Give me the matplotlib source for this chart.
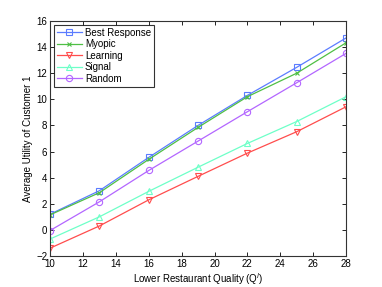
import matplotlib
matplotlib.use("Agg")
import matplotlib.pyplot as plt

# quality values on x axis
quality = [10, 13, 16, 19, 22, 25, 28]

best_response = [1.2, 3.0, 5.55, 8.0, 10.3, 12.45, 14.7]
myopic = [1.15, 2.85, 5.4, 7.85, 10.2, 12.0, 14.33]
learning = [-1.4, 0.3, 2.3, 4.1, 5.88, 7.52, 9.43]
signal = [-0.7, 1.0, 2.95, 4.8, 6.62, 8.3, 10.2]
random_ = [-0.05, 2.15, 4.55, 6.8, 9.05, 11.27, 13.52]

plt.rcParams["font.family"] = ["Liberation Sans", "DejaVu Sans"]

fig = plt.figure(figsize=(3.82, 2.87), dpi=100)
ax = fig.add_axes([0.131, 0.108, 0.775, 0.819])

ms = 4.5
lw = 0.9
ax.plot(quality, best_response, marker="s", color="#5b7cff", mfc="none", ms=ms, lw=lw, mew=0.8, label="Best Response")
ax.plot(quality, myopic, marker="x", color="#4fbf45", ms=3.5, lw=lw, mew=0.8, label="Myopic")
ax.plot(quality, learning, marker="v", color="#ff4d4d", mfc="none", ms=ms, lw=lw, mew=0.8, label="Learning")
ax.plot(quality, signal, marker="^", color="#6effc8", mfc="none", ms=ms, lw=lw, mew=0.8, label="Signal")
ax.plot(quality, random_, marker="o", color="#b366ff", mfc="none", ms=ms, lw=lw, mew=0.8, label="Random")

ax.set_xlim(10, 28)
ax.set_ylim(-2, 16)
ax.set_xticks(range(10, 29, 2))
ax.set_yticks(range(-2, 17, 2))
ax.tick_params(direction="in", top=True, right=True, labelsize=7, length=3, width=0.6, pad=2)
for s in ax.spines.values():
    s.set_linewidth(0.8)
    s.set_color("#333333")

ax.set_xlabel("Lower Restaurant Quality (Q$^l$)", fontsize=7, labelpad=2)
ax.set_ylabel("Average Utility of Customer 1", fontsize=7, labelpad=2)

leg = ax.legend(loc="upper left", fontsize=7, frameon=True, fancybox=False,
                edgecolor="black", borderpad=0.3, labelspacing=0.15,
                handlelength=2.6, handletextpad=0.3, borderaxespad=0.4)
leg.get_frame().set_linewidth(0.8)

plt.savefig("out.png", dpi=100)
